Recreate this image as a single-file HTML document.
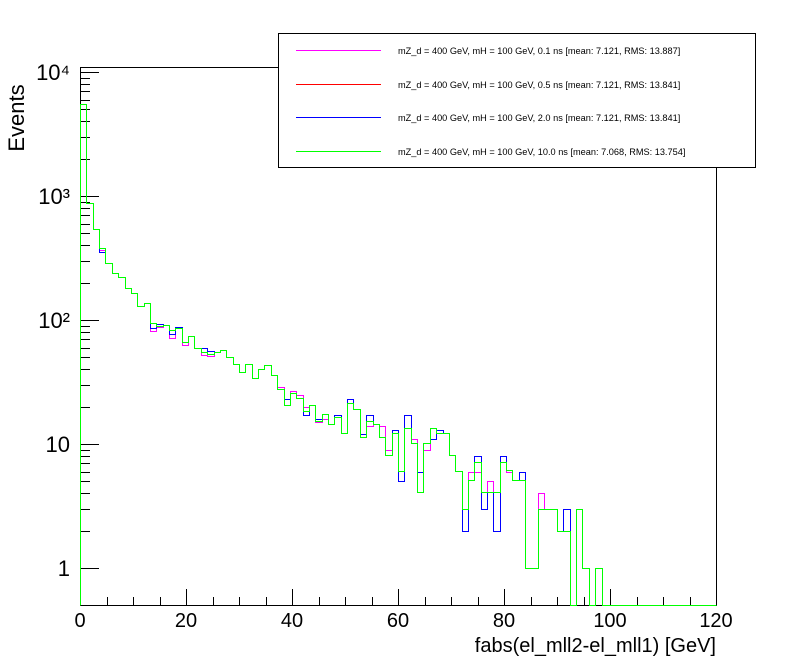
<!DOCTYPE html>
<html><head><meta charset="utf-8"><style>
html,body{margin:0;padding:0;background:#fff;}
svg{display:block;font-family:"Liberation Sans",Arial,sans-serif;}
</style></head><body>
<svg id="chart" width="796" height="672" viewBox="0 0 796 672">
<rect x="0" y="0" width="796" height="672" fill="#fff"/>
<rect x="80.5" y="67.5" width="636" height="538" fill="none" stroke="#000" stroke-width="1"/>
<g id="axes"></g>
<g id="plot"></g>
<text x="24" y="118" font-size="22" text-anchor="middle" transform="rotate(-90 24 118)">Events</text>
<text x="716" y="652" font-size="20" text-anchor="end">fabs(el_mll2-el_mll1) [GeV]</text>
<g id="legend">
<rect x="278.5" y="33.5" width="477" height="134" fill="#fff" stroke="#000" stroke-width="1"/>
</g>
</svg>
<script>
const binLow = 0, binHigh = 120, nBins = 100;
const xTicks = [0, 20, 40, 60, 80, 100, 120];
const yTickLabels = ["1", "10", "10²", "10³", "10⁴"];
const yTickValues = [1, 10, 100, 1000, 10000];
const seriesNames = [
 "mZ_d = 400 GeV, mH = 100 GeV, 0.1 ns [mean: 7.121, RMS: 13.887]",
 "mZ_d = 400 GeV, mH = 100 GeV, 0.5 ns [mean: 7.121, RMS: 13.841]",
 "mZ_d = 400 GeV, mH = 100 GeV, 2.0 ns [mean: 7.121, RMS: 13.841]",
 "mZ_d = 400 GeV, mH = 100 GeV, 10.0 ns [mean: 7.068, RMS: 13.754]"];
const seriesColors = ["#ff00ff", "#ff0000", "#0000ff", "#00ff00"];
const magenta = [5500,870,542,370,288,238,224,182,166,130,138,82,88,91,72,86,63,74,60,52,51,55,57,50,44,38,44,34,40,43,36,29,20.6,27,25,20,20.5,15,16,14.4,16.4,12.2,21.3,19.3,11.3,14,14.4,14,9,12.2,6.1,13.4,11,6,9,13.4,12.2,12.2,8.1,6.1,3,6,6,4.1,5,4.1,7.2,6,5.1,5.1,1,1,4,3,3,2,2,0,3,1,0,1,0,0,0,0,0,0,0,0,0,0,0,0,0,0,0,0,0,0];
const red = [5500,870,542,355,288,238,224,182,166,130,138,86,93,91,77,88,67,74,60,59,56,55,57,50,44,38,44,34,40,43,36,27.6,23,25.6,23.3,17,20.5,16,17.5,14.4,17,12.2,23,19.3,12,17,14.4,11.3,8.1,13,5,17,10.1,6,10.1,11,13,12.2,8.1,6.1,2,5.1,8,3,4.1,2,8,6.2,5.1,6,1,1,3,3,3,2,3,0,3,1,0,1,0,0,0,0,0,0,0,0,0,0,0,0,0,0,0,0,0,0];
const blue = [5500,870,542,355,288,238,224,182,166,130,138,86,93,91,77,88,67,74,60,59,56,55,57,50,44,38,44,34,40,43,36,27.6,23,25.6,23.3,17,20.5,16,17.5,14.4,17,12.2,23,19.3,12,17,14.4,11.3,8.1,13,5,17,10.1,6,10.1,11,13,12.2,8.1,6.1,2,5.1,8,3,4.1,2,8,6.2,5.1,6,1,1,3,3,3,2,3,0,3,1,0,1,0,0,0,0,0,0,0,0,0,0,0,0,0,0,0,0,0,0];
const green = [5500,870,542,383,288,238,224,182,166,130,138,94,90,91,83,86,67,74,60,55,53,55,57,50,44,38,44,34,40,43,36,27.6,20.6,25.6,23.3,18.5,20.5,15.3,17.5,14.4,16.4,12.2,21.3,19.3,11.3,15.2,14.4,11.3,8.1,12.2,6.1,13.4,10.1,4.1,10.1,13.4,12.2,12.2,8.1,6.1,3,5.1,7.2,4.1,4.1,4.1,7.2,6.2,5.1,5.1,1,1,3,3,3,2,2,0,3,1,0,1,0,0,0,0,0,0,0,0,0,0,0,0,0,0,0,0,0,0];
const allSeries = [magenta, red, blue, green];

const NS = "http://www.w3.org/2000/svg";
const X0 = 80, X1 = 716, Y0 = 605, YTOP = 67;
const yOne = 568, decade = 124;
function xs(v){ return X0 + (v - binLow) / (binHigh - binLow) * (X1 - X0); }
function ys(v){ if (v <= 0) return Y0; const y = yOne - decade * Math.log10(v); return Math.min(Y0, Math.max(YTOP, y)); }
function px(v){ return Math.round(v) + 0.5; }
function mk(tag, attrs, parent){ const e = document.createElementNS(NS, tag); for (const k in attrs) e.setAttribute(k, attrs[k]); parent.appendChild(e); return e; }

const plot = document.getElementById("plot");
const bw = (binHigh - binLow) / nBins;
allSeries.forEach((vals, s) => {
  let d = "M" + px(xs(binLow)) + " " + px(Y0);
  for (let i = 0; i < vals.length; i++) {
    const y = px(ys(vals[i]));
    d += " L" + px(xs(binLow + i * bw)) + " " + y + " L" + px(xs(binLow + (i + 1) * bw)) + " " + y;
  }
  const p = mk("path", {d: d, fill: "none", stroke: seriesColors[s], "stroke-width": 1}, plot);
  
  
});

const axes = document.getElementById("axes");
for (let v = binLow; v <= binHigh; v += 5) {
  const major = v % 20 === 0;
  const t = mk("line", {x1: px(xs(v)), x2: px(xs(v)), y1: Y0, y2: Y0 - (major ? 16 : 8), stroke: "#000", "stroke-width": 1}, axes);
  
  
}
xTicks.forEach(v => {
  const t = mk("text", {x: xs(v), y: 627, "font-size": 20, "text-anchor": "middle"}, axes);
  t.textContent = String(v);
  
  
});
for (let e = 0; e <= 4; e++) {
  for (let m = 1; m <= 9; m++) {
    const v = m * Math.pow(10, e);
    const y = ys(v);
    if (y <= YTOP || y >= Y0) continue;
    const t = mk("line", {x1: X0, x2: X0 + (m === 1 ? 19 : 10), y1: px(y), y2: px(y), stroke: "#000", "stroke-width": 1}, axes);
    
    
  }
}
yTickValues.forEach((v, i) => {
  const t = mk("text", {x: 70, y: ys(v) + 8, "font-size": 22, "text-anchor": "end"}, axes);
  t.textContent = yTickLabels[i];
  
  
});

const legend = document.getElementById("legend");
seriesNames.forEach((n, i) => {
  const y = Math.round(50 + i * 33.5) + 0.5;
  const l = mk("line", {x1: 296, x2: 381, y1: y, y2: y, stroke: seriesColors[i], "stroke-width": 1}, legend);
  
  
  const t = mk("text", {x: 398, y: y + 3.5, "font-size": 9.2}, legend);
  t.textContent = n;
  
  
});
</script>
</body></html>
